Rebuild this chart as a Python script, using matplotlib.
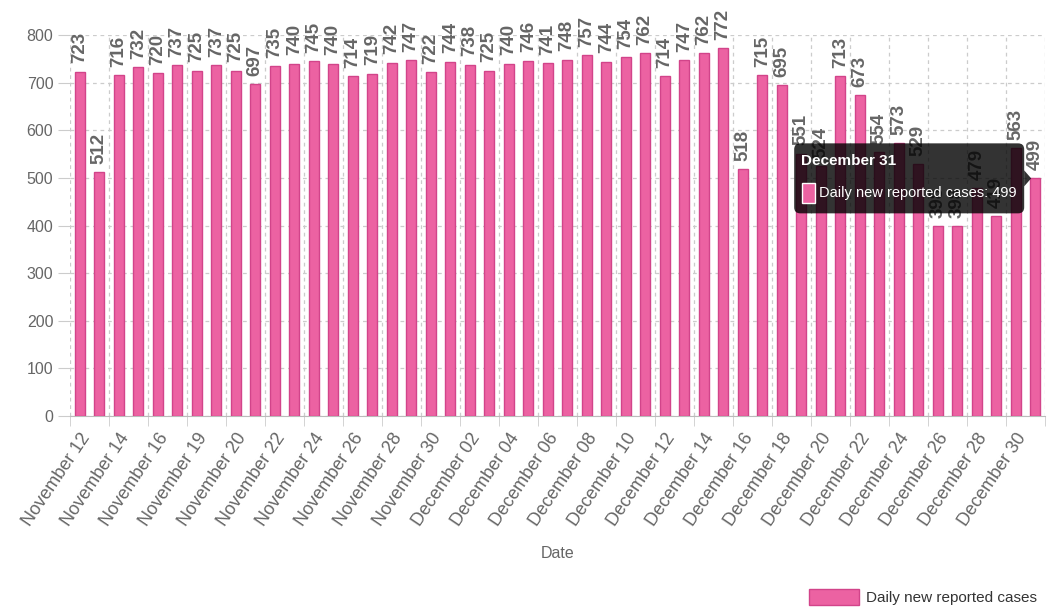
import numpy as np
import matplotlib.pyplot as plt
from matplotlib.patches import FancyBboxPatch, Polygon, Rectangle
from matplotlib.transforms import IdentityTransform

plt.rcParams['font.family'] = ['Liberation Sans', 'DejaVu Sans']

# dates as shown on the axis (source data has "November 19" twice)
nov_days = [12, 13, 14, 15, 16, 17, 19, 19, 20, 21, 22, 23, 24, 25, 26, 27, 28, 29, 30]
dec_days = [1, 2, 3, 4, 5, 6, 7, 8, 9, 10, 11, 12, 13, 14, 15, 16,
            17, 18, 19, 20, 21, 22, 23, 24, 25, 26, 27, 28, 29, 30, 31]
dates = [f'November {d:02d}' for d in nov_days] + [f'December {d:02d}' for d in dec_days]

cases = [723, 512, 716, 732, 720, 737, 725, 737, 725, 697,
         735, 740, 745, 740, 714, 719, 742, 747, 722, 744,
         738, 725, 740, 746, 741, 748, 757, 744, 754, 762,
         714, 747, 762, 772, 518, 715, 695, 551, 524, 713,
         673, 554, 573, 529, 398, 398, 479, 419, 563, 499]

series_name = 'Daily new reported cases'
fill = '#EC62A2'
edge = '#D2448A'
grey = '#666666'

W, H = 1052, 610
fig = plt.figure(figsize=(W / 100, H / 100), dpi=100)
ax = fig.add_axes([70 / W, 1 - 416 / H, 975 / W, 381 / H])

x = np.arange(len(cases))
bar_w = 0.52
ax.bar(x, cases, width=bar_w, color=fill, edgecolor=edge, linewidth=1, zorder=3)

# value labels above bars
for xi, v in zip(x, cases):
    ax.annotate(str(v), (xi, v), xytext=(0, 6), textcoords='offset points',
                rotation=90, ha='center', va='bottom', fontsize=13.5,
                fontweight='bold', color=grey, annotation_clip=False)

ax.set_xlim(-0.5, len(cases) - 0.5)
ax.set_ylim(0, 800)
ax.set_yticks(range(0, 801, 100))

# labels on every other bar, grid lines on slot edges
ax.set_xticks(x[::2])
ax.set_xticklabels(dates[::2], rotation=56, ha='right', va='top',
                   rotation_mode='anchor', fontsize=13, color=grey)
ax.set_xticks(np.arange(-0.5, len(cases), 2), minor=True)
ax.tick_params(axis='x', which='major', length=0, pad=10)
ax.tick_params(axis='x', which='minor', length=7, color='#cccccc')
ax.tick_params(axis='y', length=9, color='#cccccc', labelsize=11.5, labelcolor=grey, pad=3)

ax.grid(axis='y', which='major', color='#cccccc', linestyle=(0, (3, 3)), linewidth=0.9)
ax.grid(axis='x', which='minor', color='#cccccc', linestyle=(0, (3, 3)), linewidth=0.9)
ax.set_axisbelow(True)
for s in ['top', 'right', 'left']:
    ax.spines[s].set_visible(False)
ax.spines['bottom'].set_color('#bbbbbb')

ax.set_xlabel('Date', fontsize=11.5, color=grey, labelpad=12)

# legend bottom right
fig.legend([Rectangle((0, 0), 1, 1, facecolor=fill, edgecolor=edge)], [series_name],
           loc='center right', bbox_to_anchor=(1037 / W, 1 - 597 / H), frameon=False,
           fontsize=11, handlelength=3.3, handleheight=1.3, handletextpad=0.45,
           borderpad=0, borderaxespad=0, labelcolor='#333333')

# hover tooltip on the last bar
tip_x, tip_y = ax.transData.transform((x[-1] - bar_w / 2, cases[-1]))
tip_x += 1
bw, bh, caret = 230, 70, 7
bx0 = tip_x - caret - bw
by0 = tip_y - bh / 2
tt = IdentityTransform()
fig.patches.append(FancyBboxPatch((bx0, by0), bw, bh, boxstyle='round,pad=0,rounding_size=6',
                                  transform=tt, facecolor=(0, 0, 0, 0.8), edgecolor='none',
                                  zorder=10))
fig.patches.append(Polygon([(tip_x - caret, tip_y + 8), (tip_x - caret, tip_y - 8), (tip_x, tip_y)],
                           closed=True, transform=tt, facecolor=(0, 0, 0, 0.8),
                           edgecolor='none', zorder=10))
fig.text(bx0 + 7, by0 + bh - 18, dates[-1], transform=tt, color='white', fontsize=11,
         fontweight='bold', va='center', ha='left', zorder=11)
fig.patches.append(Rectangle((bx0 + 8, by0 + 10), 13, 20, transform=tt, facecolor=fill,
                             edgecolor='white', linewidth=1, zorder=11))
fig.text(bx0 + 25, by0 + 20, f'{series_name}: {cases[-1]}', transform=tt, color='white',
         fontsize=10.5, va='center', ha='left', zorder=11)

fig.savefig('out.png', dpi=100)
